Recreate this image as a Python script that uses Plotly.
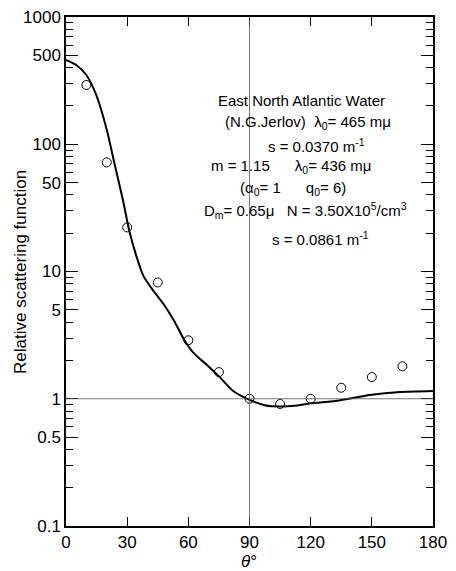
import plotly.graph_objects as go

# Measured relative scattering function (open circles)
theta_obs = [10, 20, 30, 45, 60, 75, 90, 105, 120, 135, 150, 165]
beta_obs = [292, 72, 22.2, 8.2, 2.88, 1.62, 1.0, 0.91, 1.0, 1.22, 1.48, 1.80]

# Computed Mie curve (solid line)
theta_calc = [0, 5, 10, 15, 20, 24, 28, 31, 35, 38, 43, 48, 53, 58, 63, 69,
              75, 82, 90, 98, 105, 112, 120, 134, 149, 164, 180]
beta_calc = [460, 420, 350, 240, 130, 68, 36, 21, 12.5, 9.2, 7.0, 5.5, 4.1,
             2.9, 2.25, 1.85, 1.5, 1.15, 0.98, 0.885, 0.87, 0.88, 0.92, 0.97,
             1.07, 1.13, 1.15]

# Axis ticks
x_ticks = [0, 30, 60, 90, 120, 150, 180]
y_ticks = [0.1, 0.5, 1, 5, 10, 50, 100, 500, 1000]
y_tick_text = ["0.1", "0.5", "1", "5", "10", "50", "100", "500", "1000"]
y_minor = [m * d for d in (0.1, 1, 10, 100) for m in (2, 3, 4, 6, 7, 8, 9)]

# Reference lines
REF_ANGLE = 90
REF_VALUE = 1

FONT = "Liberation Sans, Arial, sans-serif"

fig = go.Figure()
fig.add_trace(go.Scatter(x=theta_calc, y=beta_calc, mode="lines",
                         line=dict(color="black", width=2, shape="spline", smoothing=0.6),
                         showlegend=False))
fig.add_trace(go.Scatter(x=theta_obs, y=beta_obs, mode="markers",
                         marker=dict(symbol="circle-open", size=9, color="black",
                                     line=dict(width=1, color="black")),
                         showlegend=False))
# invisible copy on the overlay axis that carries the minor ticks
fig.add_trace(go.Scatter(x=theta_obs, y=beta_obs, mode="markers", yaxis="y2",
                         marker=dict(opacity=0), hoverinfo="skip", showlegend=False))

fig.add_shape(type="line", xref="x", yref="paper", x0=REF_ANGLE, x1=REF_ANGLE,
              y0=0, y1=1, line=dict(color="#555", width=0.8))
fig.add_shape(type="line", xref="paper", yref="y", x0=0, x1=1,
              y0=REF_VALUE, y1=REF_VALUE, line=dict(color="#555", width=0.8))

L, R, T, B = 66, 23, 17, 45
W, H = 456, 571
pw, ph = W - L - R, H - T - B

lines = [
    ("East North Atlantic Water", 301, 100),
    ("(N.G.Jerlov)  λ<sub>0</sub>= 465 mμ", 308, 122),
    ("s = 0.0370 m<sup>-1</sup>", 316, 145),
    ("m = 1.15      λ<sub>0</sub>= 436 mμ", 291, 166),
    ("(α<sub>0</sub>= 1      q<sub>0</sub>= 6)", 293, 188),
    ("D<sub>m</sub>= 0.65μ   N = 3.50X10<sup>5</sup>/cm<sup>3</sup>", 305, 210),
    ("s = 0.0861 m<sup>-1</sup>", 320, 238),
]
for txt, px, py in lines:
    fig.add_annotation(text=txt, xref="paper", yref="paper",
                       x=(px - L) / pw, y=(H - B - py) / ph,
                       xanchor="center", yanchor="middle", showarrow=False,
                       font=dict(family=FONT, size=15, color="black"))

# axis titles
fig.add_annotation(text="Relative scattering function", xref="paper", yref="paper",
                   x=(20 - L) / pw, y=(H - B - 272) / ph, textangle=-90,
                   xanchor="center", yanchor="middle", showarrow=False,
                   font=dict(family=FONT, size=17, color="black"))
fig.add_annotation(text="<i>θ</i>°", xref="paper", yref="paper",
                   x=(249 - L) / pw, y=(H - B - 561) / ph,
                   xanchor="center", yanchor="middle", showarrow=False,
                   font=dict(family=FONT, size=17, color="black"))

fig.update_layout(
    width=W, height=H,
    margin=dict(l=L, r=R, t=T, b=B, autoexpand=False),
    plot_bgcolor="white", paper_bgcolor="white",
    font=dict(family=FONT, size=17, color="black"),
    xaxis=dict(range=[0, 180], tickvals=x_ticks, ticks="inside", ticklen=9,
               tickwidth=1.3, tickcolor="black", showline=True, linecolor="black",
               linewidth=1.5, mirror="ticks", showgrid=False, zeroline=False,
               automargin=False),
    yaxis=dict(type="log", range=[-1, 3], tickvals=y_ticks, ticktext=y_tick_text,
               ticks="inside", ticklen=12, tickwidth=1.3, tickcolor="black",
               showline=True, linecolor="black", linewidth=1.5, mirror="ticks",
               showgrid=False, zeroline=False, automargin=False),
    yaxis2=dict(type="log", range=[-1, 3], overlaying="y", side="left",
                tickvals=y_minor, showticklabels=False, ticks="inside", ticklen=7,
                tickwidth=1.1, tickcolor="black", showline=False, mirror="ticks",
                showgrid=False, zeroline=False, automargin=False),
)

fig.write_html("out.html")
